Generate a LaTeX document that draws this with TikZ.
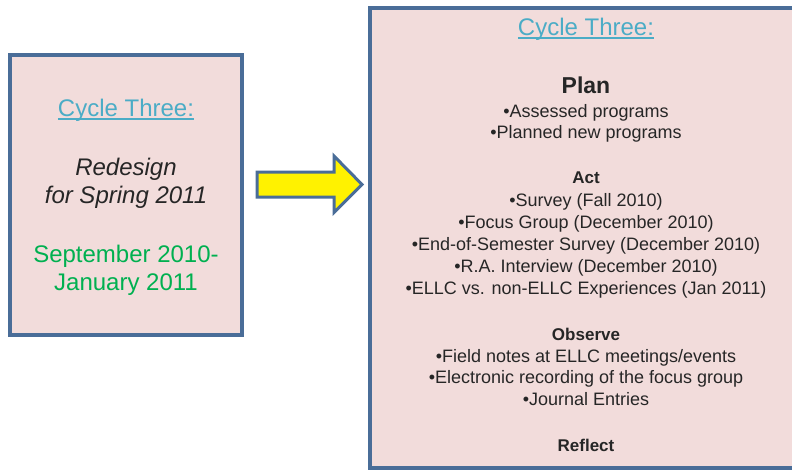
\documentclass[tikz,border=0pt]{standalone}
\usepackage{fontspec}
\setmainfont{Liberation Sans}
\usetikzlibrary{positioning}

\definecolor{boxfill}{HTML}{F2DCDB}
\definecolor{boxline}{HTML}{4A6D98}
\definecolor{cycleblue}{HTML}{4BACC6}
\definecolor{dategreen}{HTML}{00B050}
\definecolor{textdark}{HTML}{262626}

\tikzset{
  cyclebox/.style={rectangle, draw=boxline, line width=3.5pt, fill=boxfill, inner sep=0pt},
  cycletitle/.style={anchor=base, inner sep=0pt, text=cycleblue, font=\fontsize{24}{28}\selectfont},
  bigline/.style={anchor=base, inner sep=0pt, text=textdark, font=\fontsize{24}{28}\selectfont},
  item/.style={anchor=base, inner sep=0pt, text=textdark, font=\fontsize{18}{22}\selectfont},
  phase/.style={item, font=\fontsize{17}{22}\selectfont\bfseries},
}

\begin{document}
\begin{tikzpicture}[x=1pt, y=-1pt]

    \useasboundingbox (0,0) rectangle (792,472);
    \clip (0,0) rectangle (792,472);

    \node[cyclebox, minimum width=232pt, minimum height=280pt] at (126,195) (redesign) {};
    \node[cyclebox, minimum width=432pt, minimum height=460pt] at (586,238) (cycle) {};

    \node[cycletitle] at (126,116) (ltitle) {Cycle Three:};
    \draw[cycleblue, line width=1.3pt] ([yshift=-3pt] ltitle.base west) -- ([yshift=-3pt] ltitle.base east);
    \node[bigline, font=\fontsize{24}{28}\selectfont\itshape] at (126,175) (re1) {Redesign};
    \node[bigline, font=\fontsize{24}{28}\selectfont\itshape] at (126,203) (re2) {for Spring 2011};
    \node[bigline, text=dategreen] at (126,262) (date1) {September 2010-};
    \node[bigline, text=dategreen] at (126,290) (date2) {January 2011};

    \coordinate (tail) at (257,184.5);
    \draw[boxline, line width=3pt, fill=yellow, line join=miter]
      (tail) ++(0,-12.5) -- ++(77,0) -- ++(0,-16) -- (362,184.5) -- (334,212.5)
      -- ++(0,-15.5) -- ++(-77,0) -- cycle;

    \node[cycletitle] at (586,35) (rtitle) {Cycle Three:};
    \draw[cycleblue, line width=1.3pt] ([yshift=-3pt] rtitle.base west) -- ([yshift=-3pt] rtitle.base east);

    \node[bigline, font=\fontsize{23}{28}\selectfont\bfseries] at (586,93) (plan) {Plan};
    \node[item] at (586,117) (plan1) {•Assessed programs};
    \node[item] at (586,138) (plan2) {•Planned new programs};

    \node[phase] at (586,183) (act) {Act};
    \foreach \y/\txt [count=\i] in {206/{•Survey (Fall 2010)},
        228/{•Focus Group (December 2010)},
        250/{•End-of-Semester Survey (December 2010)},
        272/{•R.A. Interview (December 2010)},
        294/{•ELLC vs. non-ELLC Experiences (Jan 2011)}}
      \node[item] at (586,\y) (act\i) {\txt};

    \node[phase] at (586,340) (observe) {Observe};
    \foreach \y/\txt [count=\i] in {362/{•Field notes at ELLC meetings/events},
        383/{•Electronic recording of the focus group},
        405/{•Journal Entries}}
      \node[item] at (586,\y) (obs\i) {\txt};

    \node[phase] at (586,451) (reflect) {Reflect};
  \end{tikzpicture}
\end{document}
